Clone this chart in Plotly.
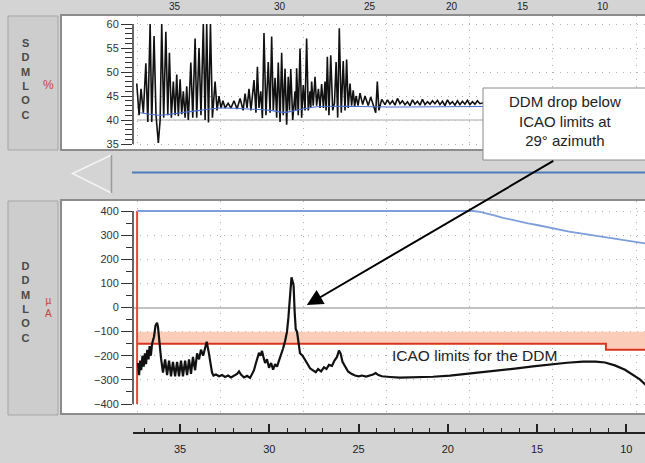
import plotly.graph_objects as go

W, H = 645, 463


def PX(x):
    return x / W


def PY(y):
    return 1 - y / H


# ---------------- data ----------------
# SDM LOC (%) versus azimuth (deg)
sdm_az = [
    37.43, 37.30, 37.19, 37.06, 36.92, 36.81, 36.68, 36.59, 36.46, 36.35,
    36.22, 36.12, 36.03, 35.92, 35.80, 35.69, 35.60, 35.49, 35.38, 35.28,
    35.19, 35.10, 35.00, 34.91, 34.82, 34.72, 34.63, 34.54, 34.40, 34.29,
    34.16, 34.07, 33.94, 33.83, 33.70, 33.60, 33.51, 33.41, 33.30, 33.19,
    33.04, 32.93, 32.82, 32.71, 32.60, 32.48, 32.31, 32.15, 31.98, 31.81,
    31.64, 31.47, 31.36, 31.25, 31.14, 31.03, 30.86, 30.75, 30.67, 30.58,
    30.48, 30.39, 30.30, 30.19, 30.06, 29.96, 29.87, 29.78, 29.68, 29.59,
    29.50, 29.40, 29.31, 29.22, 29.12, 29.03, 28.94, 28.87, 28.80, 28.69,
    28.56, 28.52, 28.47, 28.38, 28.28, 28.19, 28.10, 28.00, 27.91, 27.82,
    27.72, 27.68, 27.63, 27.54, 27.44, 27.35, 27.25, 27.16, 27.07, 26.97,
    26.88, 26.82, 26.75, 26.66, 26.56, 26.45, 26.35, 26.26, 26.17, 26.08,
    25.97, 25.86, 25.76, 25.67, 25.58, 25.48, 25.39, 25.30, 25.22, 25.14,
    25.03, 24.92, 24.77, 24.64, 24.46, 24.32, 24.18, 24.04, 23.95, 23.86,
    23.70, 23.52, 23.38, 23.24, 23.10, 22.96, 22.82, 22.68, 22.54, 22.40,
    22.26, 22.12, 21.98, 21.84, 21.70, 21.56, 21.42, 21.28, 21.14, 21.00,
    20.86, 20.72, 20.58, 20.44, 20.30, 20.16, 20.02, 19.88, 19.74, 19.60,
    19.46, 19.32, 19.18, 19.04, 18.90, 18.76, 18.62, 18.48, 18.34, 18.20,
    17.81, 17.08, 15.96, 14.28, 12.60, 10.91, 8.95,
]
sdm_val = [
    47.6, 41.0, 46.5, 41.5, 51.8, 39.6, 60.0, 39.6, 57.5, 41.0,
    35.2, 40.0, 60.0, 40.5, 58.4, 41.0, 54.0, 40.5, 48.0, 41.0,
    49.5, 40.8, 48.5, 41.2, 46.0, 40.5, 47.0, 40.0, 52.0, 40.5,
    57.0, 40.5, 55.0, 41.0, 60.0, 40.0, 60.0, 39.5, 60.0, 40.5,
    48.0, 42.0, 45.0, 42.5, 44.0, 42.5, 43.5, 42.5, 44.0, 42.3,
    44.5, 42.0, 45.5, 42.5, 46.5, 42.0, 48.3, 41.5, 51.1, 42.5,
    46.0, 40.4, 58.1, 41.0, 52.1, 41.5, 57.4, 42.0, 48.8, 40.5,
    52.0, 39.6, 54.0, 41.0, 50.7, 39.0, 49.0, 42.0, 50.6, 40.0,
    46.0, 42.0, 50.8, 41.0, 54.9, 40.5, 47.3, 42.0, 57.0, 42.0,
    46.0, 42.5, 48.0, 43.0, 49.0, 43.0, 46.5, 42.5, 47.5, 42.5,
    48.0, 42.0, 53.2, 41.0, 53.5, 42.0, 43.5, 52.1, 40.5, 59.1,
    41.5, 52.3, 42.0, 52.6, 42.5, 47.6, 43.0, 46.2, 42.8, 45.0,
    43.0, 45.6, 43.2, 45.0, 43.0, 44.8, 43.2, 41.5, 48.0, 42.0,
    44.3, 43.2, 44.2, 43.3, 44.0, 43.1, 44.5, 43.4, 44.0, 43.2,
    43.8, 43.0, 44.2, 43.3, 43.9, 43.1, 44.3, 43.2, 43.8, 43.3,
    44.0, 43.4, 44.1, 43.2, 43.9, 43.0, 44.2, 43.3, 43.8, 43.1,
    44.0, 43.2, 43.9, 43.3, 44.1, 43.2, 43.8, 43.3, 44.0, 43.4,
    43.8, 43.4, 43.6, 43.4, 43.5, 43.4, 43.5,
]
# SDM reference (blue)
sdm_ref_az = [37.24, 36.12, 35.00, 33.88, 32.76, 31.08, 29.96, 29.12, 28.28, 27.16, 24.92, 22.68, 18.20, 8.95]
sdm_ref_val = [41.5, 41.0, 41.5, 42.0, 42.5, 42.3, 42.0, 41.6, 42.2, 42.8, 42.8, 42.7, 42.8, 42.8]

# DDM LOC (uA) versus azimuth (deg)
ddm_az = [
    37.36, 37.30, 37.24, 37.18, 37.11, 37.04, 36.97, 36.91, 36.84, 36.77,
    36.71, 36.64, 36.57, 36.46, 36.38, 36.29, 36.24, 36.18, 36.12, 36.07,
    35.96, 35.84, 35.73, 35.62, 35.51, 35.40, 35.28, 35.17, 35.06, 34.95,
    34.84, 34.72, 34.61, 34.50, 34.39, 34.28, 34.16, 34.05, 33.94, 33.83,
    33.71, 33.60, 33.51, 33.41, 33.32, 33.21, 33.13, 32.99, 32.82, 32.65,
    32.48, 32.31, 32.15, 31.98, 31.81, 31.70, 31.59, 31.42, 31.25, 31.08,
    30.97, 30.86, 30.77, 30.69, 30.58, 30.49, 30.41, 30.33, 30.24, 30.13,
    30.02, 29.90, 29.79, 29.68, 29.57, 29.46, 29.35, 29.23, 29.12, 29.01,
    28.93, 28.84, 28.76, 28.70, 28.64, 28.58, 28.52, 28.45, 28.37, 28.28,
    28.14, 28.00, 27.85, 27.72, 27.55, 27.40, 27.27, 27.10, 26.94, 26.80,
    26.66, 26.49, 26.35, 26.21, 26.10, 26.01, 25.90, 25.76, 25.59, 25.40,
    25.20, 24.99, 24.81, 24.58, 24.38, 24.19, 24.04, 23.89, 23.69, 23.49,
    23.24, 22.68, 21.84, 20.83, 19.88, 18.92, 18.03, 17.08, 16.12, 15.23,
    14.28, 13.32, 12.43, 11.72, 11.19, 10.64, 10.07, 9.63, 9.24, 8.90,
]
ddm_val = [
    -230, -280, -220, -260, -200, -245, -190, -235, -175, -215,
    -160, -200, -150, -120, -75, -63, -80, -130, -185, -210,
    -270, -215, -280, -220, -285, -225, -285, -225, -285, -220,
    -285, -220, -280, -215, -275, -205, -260, -190, -215, -175,
    -200, -160, -142, -180, -230, -270, -282, -278, -285, -280,
    -288, -282, -290, -282, -275, -265, -278, -290, -283, -292,
    -278, -260, -235, -210, -188, -200, -180, -205, -230, -215,
    -250, -230, -258, -235, -245, -220, -200, -170, -140, -100,
    -40, 60, 125, 110, 90, -20, -90, -100, -155, -190,
    -200, -220, -235, -252, -262, -268, -255, -265, -248, -255,
    -238, -242, -220, -205, -178, -190, -225, -245, -265, -275,
    -282, -285, -282, -286, -283, -278, -272, -280, -285, -287,
    -288, -291, -290, -287, -282, -275, -268, -261, -252, -244,
    -235, -229, -224, -224, -228, -240, -258, -278, -298, -322,
]
# DDM reference (blue)
ddm_ref_az = [37.41, 18.59, 18.20, 17.81, 17.40, 16.91, 16.40, 15.96, 15.50, 15.00,
              14.11, 13.20, 12.20, 11.30, 10.35, 9.60, 8.95]
ddm_ref_val = [400, 400, 396, 390, 382, 372, 363, 356, 349, 342,
               328, 315, 303, 293, 284, 275, 266]

# ICAO limits
limit_az = [37.41, 11.14, 11.14, 8.95]
limit_val = [-150, -150, -175, -175]
band_top = -100
limit_start_az = 37.41
limit_span = [-400, 400]

grid_az = [37.41, 32.76, 28.11, 23.41, 18.76, 14.11, 9.40]
ruler_ticks = [35, 30, 25, 20, 15, 10]
ruler_minor = [v for v in range(9, 38) if v % 5]
sdm_ticks = [35, 40, 45, 50, 55, 60]
sdm_minor = [v for v in range(35, 61) if v % 5]
ddm_ticks = list(range(-400, 401, 100))
ddm_minor = list(range(-350, 351, 100))
sdm_ref_level = 40
top_labels = ["35", "30", "25", "20", "15", "10"]

assert len(sdm_az) == len(sdm_val)
assert len(ddm_az) == len(ddm_val)

# ---------------- geometry (pixels -> axes) ----------------
AZ_LEFT, AZ_RIGHT = 37.64, 8.95
XDOM = [PX(133), 1.0]
FONT = "Liberation Sans, Arial, sans-serif"

fig = go.Figure()

# lower plot: ICAO band
fig.add_trace(go.Scatter(
    x=limit_az + limit_az[::-1],
    y=limit_val + [band_top] * len(limit_az),
    fill="toself", fillcolor="#fbcdb8", line=dict(width=0),
    mode="lines", hoverinfo="skip", xaxis="x", yaxis="y"))
fig.add_trace(go.Scatter(
    x=limit_az, y=limit_val, mode="lines",
    line=dict(color="#d9341f", width=2), xaxis="x", yaxis="y"))
fig.add_trace(go.Scatter(
    x=[limit_start_az, limit_start_az], y=limit_span, mode="lines",
    line=dict(color="#e4473d", width=2), xaxis="x", yaxis="y"))
fig.add_trace(go.Scatter(
    x=ddm_ref_az, y=ddm_ref_val, mode="lines",
    line=dict(color="#7d9edb", width=1.8), xaxis="x", yaxis="y"))
fig.add_trace(go.Scatter(
    x=ddm_az, y=ddm_val, mode="lines",
    line=dict(color="#111111", width=2.2), xaxis="x", yaxis="y"))

# top plot
fig.add_trace(go.Scatter(
    x=sdm_az, y=sdm_val, mode="lines",
    line=dict(color="#111111", width=1.6), xaxis="x2", yaxis="y2"))
fig.add_trace(go.Scatter(
    x=sdm_ref_az, y=sdm_ref_val, mode="lines", line_shape="spline",
    line=dict(color="#4a6fd0", width=1.1), xaxis="x2", yaxis="y2"))

# dummy trace for the ruler axis
fig.add_trace(go.Scatter(x=[20], y=[None], mode="markers", xaxis="x3", yaxis="y",
                         hoverinfo="skip"))

grid = dict(showgrid=True, gridcolor="#b0b0b0", griddash="1px,6px", gridwidth=1)
tickfont = dict(family=FONT, size=11, color="#333333")

fig.update_layout(
    width=W, height=H, autosize=False,
    margin=dict(l=0, r=0, t=0, b=0),
    paper_bgcolor="#d4d4d4", plot_bgcolor="white",
    showlegend=False,
    xaxis=dict(domain=XDOM, range=[AZ_LEFT, AZ_RIGHT], anchor="y",
               tickmode="array", tickvals=grid_az, showticklabels=False,
               ticks="", zeroline=False, showline=False, **grid),
    yaxis=dict(domain=[PY(413), PY(201)], range=[-437.3, 441.5], anchor="x",
               tickmode="array", tickvals=ddm_ticks, ticks="outside", ticklen=11,
               tickwidth=1.2, tickcolor="#333", tickfont=tickfont,
               minor=dict(tickvals=ddm_minor, ticks="outside", ticklen=6,
                          tickwidth=1.2, tickcolor="#333", showgrid=False),
               zeroline=True, zerolinecolor="#c2c2c2", zerolinewidth=1.5,
               showline=False, **grid),
    xaxis2=dict(domain=XDOM, range=[AZ_LEFT, AZ_RIGHT], anchor="y2",
                tickmode="array", tickvals=grid_az, showticklabels=False,
                ticks="", zeroline=False, showline=False, **grid),
    yaxis2=dict(domain=[PY(149), PY(16)], range=[33.96, 61.67], anchor="x2",
                tickmode="array", tickvals=sdm_ticks, ticks="outside", ticklen=11,
                tickwidth=1.2, tickcolor="#333", tickfont=tickfont,
                minor=dict(tickvals=sdm_minor, ticks="outside", ticklen=7,
                           tickwidth=1.2, tickcolor="#333", showgrid=False),
                zeroline=False, showline=False, **grid),
    xaxis3=dict(overlaying="x", anchor="free", position=PY(433), domain=XDOM,
                range=[AZ_LEFT, AZ_RIGHT], side="bottom",
                tickmode="array", tickvals=ruler_ticks, ticks="inside", ticklen=8,
                tickwidth=1.5, tickcolor="#222", showline=True, linecolor="#222",
                linewidth=1.5, showgrid=False, zeroline=False,
                tickfont=dict(family=FONT, size=11, color="#222"),
                ticklabelstandoff=6,
                minor=dict(tickvals=ruler_minor, ticks="inside", ticklen=4,
                           tickwidth=1.2, tickcolor="#222", showgrid=False)),
)

shapes = []
# label boxes
for y0, y1 in [(16, 150), (201, 415)]:
    shapes.append(dict(type="rect", xref="paper", yref="paper",
                       x0=PX(8), x1=PX(58), y0=PY(y1), y1=PY(y0),
                       fillcolor="#cdcdcd", line=dict(color="#a5a5a5", width=1),
                       layer="below"))
# white strip left of the plotting area
for y0, y1 in [(16, 149), (201, 413)]:
    shapes.append(dict(type="rect", xref="paper", yref="paper",
                       x0=PX(62), x1=PX(134), y0=PY(y1), y1=PY(y0),
                       fillcolor="white", line=dict(width=0), layer="below"))
# panel borders
for y0, y1 in [(15, 150), (200, 414)]:
    shapes.append(dict(type="rect", xref="paper", yref="paper",
                       x0=PX(61), x1=PX(647), y0=PY(y1), y1=PY(y0),
                       fillcolor="rgba(0,0,0,0)", line=dict(color="#8c8c8c", width=2),
                       layer="above"))
# y axis lines
shapes.append(dict(type="line", xref="paper", yref="y2", x0=PX(133), x1=PX(133),
                   y0=sdm_ticks[0], y1=sdm_ticks[-1], line=dict(color="#333", width=1.5)))
shapes.append(dict(type="line", xref="paper", yref="y", x0=PX(133), x1=PX(133),
                   y0=ddm_ticks[0], y1=ddm_ticks[-1], line=dict(color="#333", width=1.5)))
# reference level line in SDM plot
shapes.append(dict(type="line", xref="x2", yref="y2", x0=limit_start_az, x1=AZ_RIGHT,
                   y0=sdm_ref_level, y1=sdm_ref_level,
                   line=dict(color="#c4c4c4", width=1.5), layer="between"))
# slider strip: triangle and blue line
shapes.append(dict(type="path", xref="paper", yref="paper",
                   path=f"M {PX(111.5)},{PY(155)} L {PX(72.5)},{PY(173.5)} L {PX(111.5)},{PY(193)}",
                   line=dict(color="#f4f4f4", width=1.5)))
shapes.append(dict(type="line", xref="paper", yref="paper",
                   x0=PX(111.5), x1=PX(111.5), y0=PY(155), y1=PY(193),
                   line=dict(color="#9a9a9a", width=1.5)))
shapes.append(dict(type="line", xref="paper", yref="paper",
                   x0=PX(132), x1=PX(645), y0=PY(172.5), y1=PY(172.5),
                   line=dict(color="#4f7bb8", width=2)))
# callout box
shapes.append(dict(type="rect", xref="paper", yref="paper",
                   x0=PX(483), x1=PX(655), y0=PY(160), y1=PY(88),
                   fillcolor="white", line=dict(color="#8a8a8a", width=1),
                   layer="above"))
fig.update_layout(shapes=shapes)

ann = []
ann.append(dict(xref="paper", yref="paper", x=PX(25), y=PY(79),
                text="<b>S<br>D<br>M<br>L<br>O<br>C</b>", showarrow=False,
                font=dict(family=FONT, size=11, color="#4a4a4a"),
                xanchor="center", yanchor="middle"))
ann.append(dict(xref="paper", yref="paper", x=PX(25), y=PY(302),
                text="<b>D<br>D<br>M<br>L<br>O<br>C</b>", showarrow=False,
                font=dict(family=FONT, size=11, color="#4a4a4a"),
                xanchor="center", yanchor="middle"))
ann.append(dict(xref="paper", yref="paper", x=PX(48), y=PY(85), text="%",
                showarrow=False, xanchor="center", yanchor="middle",
                font=dict(family=FONT, size=12, color="#c94040")))
ann.append(dict(xref="paper", yref="paper", x=PX(48), y=PY(307), text="µ<br>A",
                showarrow=False, xanchor="center", yanchor="middle",
                font=dict(family=FONT, size=10, color="#c94040")))
# small numbers in the strip at the very top
for txt, xx in zip(top_labels, [175, 280, 370, 452, 523, 603]):
    ann.append(dict(xref="paper", yref="paper", x=PX(xx), y=PY(7), text=txt,
                    showarrow=False, xanchor="center", yanchor="middle",
                    font=dict(family=FONT, size=10, color="#222")))
# callout text
ann.append(dict(xref="paper", yref="paper", x=PX(565), y=PY(121),
                text="DDM drop below<br>ICAO limits at<br>29° azimuth",
                showarrow=False, align="center", xanchor="center", yanchor="middle",
                font=dict(family=FONT, size=15, color="#222")))
# arrow
ann.append(dict(xref="x", yref="y", x=27.9, y=10, text="", showarrow=True,
                ax=248, ay=-145, arrowhead=2, arrowsize=1.6, arrowwidth=2,
                arrowcolor="black", standoff=0))
# ICAO label
ann.append(dict(xref="x", yref="y", x=18.5, y=-197, text="ICAO limits for the DDM",
                showarrow=False, xanchor="center", yanchor="middle",
                font=dict(family=FONT, size=15.5, color="#222")))
fig.update_layout(annotations=ann)

fig.write_html("out.html",
               config={"displayModeBar": False},
               post_script="document.body.style.margin='0px';"
                           "document.body.style.overflow='hidden';")
